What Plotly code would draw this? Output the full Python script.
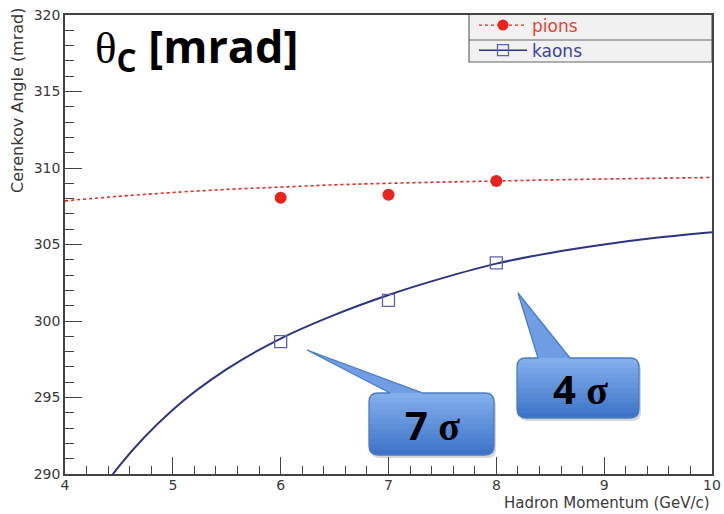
import plotly.graph_objects as go

# ---- measured Cherenkov angles (mrad) vs hadron momentum (GeV/c) ----
momentum = [6, 7, 8]
pion_angle = [308.05, 308.25, 309.15]
kaon_angle = [298.65, 301.35, 303.8]

# expected angle curves
pion_curve_p = [4, 4.5, 5, 5.5, 6, 6.5, 7, 7.5, 8, 8.5, 9, 9.5, 10]
pion_curve_angle = [307.85, 308.15, 308.4, 308.6, 308.75, 308.9, 309.0,
                    309.08, 309.15, 309.22, 309.28, 309.33, 309.38]
kaon_curve_p = [4, 4.5, 5, 5.5, 6, 6.5, 7, 7.5, 8, 8.5, 9, 9.5, 10]
kaon_curve_angle = [285.2, 290.5, 294.2, 296.85, 298.85, 300.4, 301.7,
                    302.8, 303.75, 304.45, 305.0, 305.45, 305.8]

x_ticks = [4, 5, 6, 7, 8, 9, 10]
y_ticks = [290, 295, 300, 305, 310, 315, 320]

PION_RED = "#e8241d"
KAON_BLUE = "#2e3482"
KAON_MARK = "#5d63b3"

W, H = 724, 514
LEFT, RIGHT, TOP, BOTTOM = 65, 12, 15, 40
PW, PH = W - LEFT - RIGHT, H - TOP - BOTTOM


def px(x):
    return (x - LEFT) / PW


def py(y):
    return (TOP + PH - y) / PH


fig = go.Figure()

# expected curves
fig.add_trace(go.Scatter(x=pion_curve_p, y=pion_curve_angle, mode="lines",
                         line=dict(color=PION_RED, width=1.6, dash="dot", shape="spline"),
                         showlegend=False, hoverinfo="skip"))
fig.add_trace(go.Scatter(x=kaon_curve_p, y=kaon_curve_angle, mode="lines",
                         line=dict(color=KAON_BLUE, width=2, shape="spline"),
                         showlegend=False, hoverinfo="skip"))

# measured points
fig.add_trace(go.Scatter(x=momentum, y=pion_angle, mode="markers",
                         marker=dict(symbol="circle", size=12, color=PION_RED),
                         showlegend=False))
fig.add_trace(go.Scatter(x=momentum, y=kaon_angle, mode="markers",
                         marker=dict(symbol="square-open", size=12, color=KAON_MARK,
                                     line=dict(width=1.3)),
                         showlegend=False))

# legend entries
fig.add_trace(go.Scatter(x=[None], y=[None], mode="lines+markers",
                         name="<span style='color:#e8413a'>pions</span>",
                         line=dict(color=PION_RED, width=1.3, dash="dot"),
                         marker=dict(symbol="circle", size=11, color=PION_RED)))
fig.add_trace(go.Scatter(x=[None], y=[None], mode="lines+markers",
                         name="<span style='color:#3d4596'>kaons</span>",
                         line=dict(color=KAON_BLUE, width=1.5),
                         marker=dict(symbol="square-open", size=11, color=KAON_MARK,
                                     line=dict(width=1.3))))

shapes = []

# legend frame and row separator
shapes.append(dict(type="rect", xref="paper", yref="paper", layer="below",
                   x0=px(469), x1=px(712), y0=py(14), y1=py(62),
                   fillcolor="#f1f1f1", line=dict(color="#666", width=1.2)))
shapes.append(dict(type="line", xref="paper", yref="paper",
                   x0=px(469), x1=px(712), y0=py(40), y1=py(40),
                   line=dict(color="#666", width=1.2)))


def mix(c0, c1, t):
    return "rgb(%d,%d,%d)" % tuple(round(a + (b - a) * t) for a, b in zip(c0, c1))


def P(x, y):
    return "%.5f,%.5f" % (px(x), py(y))


def rounded_rect(x0, y0, x1, y1, r, flat_bottom=False):
    s = "M" + P(x0 + r, y0) + " L" + P(x1 - r, y0)
    s += " Q" + P(x1, y0) + " " + P(x1, y0 + r)
    if flat_bottom:
        s += " L" + P(x1, y1) + " L" + P(x0, y1)
    else:
        s += " L" + P(x1, y1 - r) + " Q" + P(x1, y1) + " " + P(x1 - r, y1)
        s += " L" + P(x0 + r, y1) + " Q" + P(x0, y1) + " " + P(x0, y1 - r)
    s += " L" + P(x0, y0 + r) + " Q" + P(x0, y0) + " " + P(x0 + r, y0) + " Z"
    return s


def callout_outline(x0, y0, x1, y1, r, base_a, base_b, tip):
    s = "M" + P(x0 + r, y0) + " L" + P(base_a, y0) + " L" + P(*tip)
    s += " L" + P(base_b, y0) + " L" + P(x1 - r, y0)
    s += " Q" + P(x1, y0) + " " + P(x1, y0 + r)
    s += " L" + P(x1, y1 - r) + " Q" + P(x1, y1) + " " + P(x1 - r, y1)
    s += " L" + P(x0 + r, y1) + " Q" + P(x0, y1) + " " + P(x0, y1 - r)
    s += " L" + P(x0, y0 + r) + " Q" + P(x0, y0) + " " + P(x0 + r, y0) + " Z"
    return s


def callout(x0, y0, x1, y1, base_a, base_b, tip):
    r = 9
    dark, light = (62, 116, 200), (130, 174, 236)
    # drop shadow
    shapes.append(dict(type="path", xref="paper", yref="paper",
                       path=rounded_rect(x0 + 2, y0 + 3, x1 + 2, y1 + 3, r),
                       fillcolor="rgba(0,0,0,0.16)", line=dict(width=0)))
    # pointer + body base fill
    shapes.append(dict(type="path", xref="paper", yref="paper",
                       path=callout_outline(x0, y0, x1, y1, r, base_a, base_b, tip),
                       fillcolor="rgb(112,158,228)", line=dict(width=0)))
    # vertical gradient of the body
    n = 12
    shapes.append(dict(type="path", xref="paper", yref="paper",
                       path=rounded_rect(x0, y0, x1, y1, r),
                       fillcolor=mix(dark, light, 0), line=dict(width=0)))
    for i in range(1, n):
        yb = y0 + (y1 - y0) * (1 - i / n)
        shapes.append(dict(type="path", xref="paper", yref="paper",
                           path=rounded_rect(x0, y0, x1, yb, r, flat_bottom=True),
                           fillcolor=mix(dark, light, i / (n - 1)), line=dict(width=0)))
    # outline
    shapes.append(dict(type="path", xref="paper", yref="paper",
                       path=callout_outline(x0, y0, x1, y1, r, base_a, base_b, tip),
                       fillcolor="rgba(0,0,0,0)", line=dict(color="#4d7cc2", width=1.3)))


callout(517, 358, 639, 418, 538, 570, (518, 293))
callout(369, 393, 494, 455, 390, 423, (307, 350))

SIGMA = "<span style='font-family:Liberation Serif'>σ</span>"
annotations = [
    dict(x=px(580), y=py(388), xref="paper", yref="paper", showarrow=False,
         xanchor="center", yanchor="middle",
         text="<b>4 " + SIGMA + "</b>", font=dict(family="Open Sans", size=40, color="black")),
    dict(x=px(432), y=py(424), xref="paper", yref="paper", showarrow=False,
         xanchor="center", yanchor="middle",
         text="<b>7 " + SIGMA + "</b>", font=dict(family="Open Sans", size=40, color="black")),
    dict(x=px(93), y=py(48), xref="paper", yref="paper", xanchor="left", yanchor="middle",
         showarrow=False,
         text="<span style='font-family:Liberation Serif'>θ</span><sub><b>C</b></sub> <b>[mrad]</b>",
         font=dict(family="Open Sans", size=45, color="black")),
    dict(x=px(712), y=py(503), xref="paper", yref="paper", xanchor="right", yanchor="middle",
         showarrow=False, text="Hadron Momentum (GeV/c)",
         font=dict(family="DejaVu Sans", size=15, color="#3a3a3a")),
    dict(x=px(18), y=py(5), xref="paper", yref="paper", xanchor="center", yanchor="top",
         showarrow=False, textangle=-90, text="Cerenkov Angle (mrad)",
         font=dict(family="DejaVu Sans", size=16, color="#3a3a3a")),
]

axis_common = dict(
    showgrid=False, zeroline=False, showline=True, linecolor="#444", linewidth=1.5,
    mirror=True, ticks="inside", ticklen=17, tickwidth=1, tickcolor="#444",
    tickfont=dict(family="DejaVu Sans", size=14, color="#3a3a3a"),
)

fig.update_layout(
    width=W, height=H,
    margin=dict(l=LEFT, r=RIGHT, t=TOP, b=BOTTOM, autoexpand=False),
    paper_bgcolor="white", plot_bgcolor="white",
    xaxis=dict(range=[4, 10], tickvals=x_ticks, ticktext=[str(v) for v in x_ticks],
               ticklabelstandoff=-3,
               minor=dict(dtick=0.2, ticks="inside", ticklen=8, tickcolor="#444", showgrid=False),
               **axis_common),
    yaxis=dict(range=[290, 320], tickvals=y_ticks, ticktext=[str(v) for v in y_ticks],
               minor=dict(dtick=1, ticks="inside", ticklen=9, tickcolor="#444", showgrid=False),
               **axis_common),
    legend=dict(x=px(474), y=py(38), xanchor="left", yanchor="middle",
                bgcolor="rgba(0,0,0,0)", borderwidth=0, itemwidth=48,
                font=dict(family="DejaVu Sans", size=17),
                tracegroupgap=0, itemclick=False),
    shapes=shapes,
    annotations=annotations,
    showlegend=True,
)

fig.write_html("out.html")
